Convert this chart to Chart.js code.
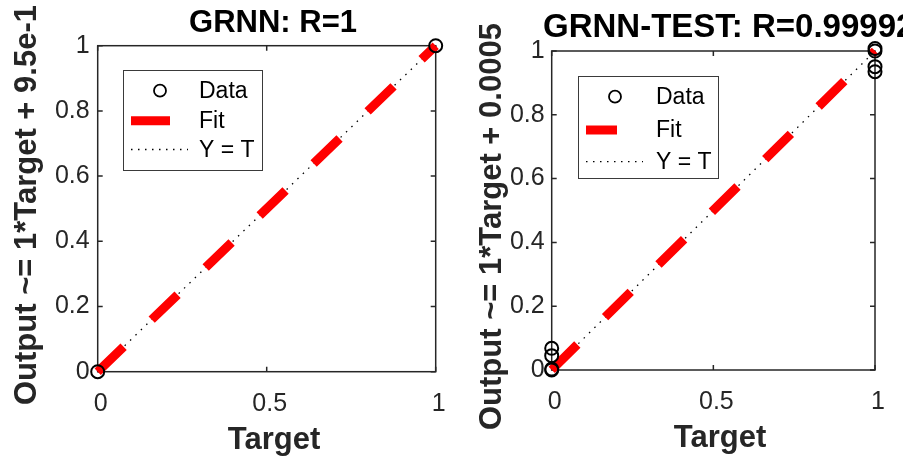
<!DOCTYPE html>
<html>
<head>
<meta charset="utf-8">
<script src="https://cdn.jsdelivr.net/npm/chart.js@4.4.1/dist/chart.umd.min.js"></script>
<style>
    html, body { margin: 0; padding: 0; background: #fff; }
    body { width: 903px; height: 457px; position: relative; overflow: hidden; }
    .panel { position: absolute; top: 0; height: 457px; }
</style>
</head>
<body>
<div class="panel" style="left:0;width:451px"><canvas id="trainChart"></canvas></div>
<div class="panel" style="left:451px;width:452px"><canvas id="testChart"></canvas></div>
<script>
// Tick labels (shared by both panels)
const xTickValues = [0, 0.5, 1];
const yTickValues = [0, 0.2, 0.4, 0.6, 0.8, 1];

// Left panel: GRNN (training)
const trainTargets = [0, 1];
const trainOutputs = [0, 1];
const trainFitX = [0, 1];
const trainFitY = [0, 1];

// Right panel: GRNN-TEST
const testTargets = [0, 0, 0, 0, 1, 1, 1, 1];
const testOutputs = [0, 0.003, 0.045, 0.068, 1, 1.008, 0.951, 0.935];
const testFitX = [0, 1];
const testFitY = [0.0005, 1.0005];

// Y = T reference line
const idealX = [0, 1];
const idealY = [0, 1];

const AXIS_COLOR = "#262626";
const FONT = "'Liberation Sans', Arial, Helvetica, sans-serif";

function toPoints(xs, ys) {
    return xs.map((x, i) => ({ x: x, y: ys[i] }));
}

// Frame with inward ticks on all four sides, MATLAB style
const framePlugin = {
    id: "frame",
    beforeDatasetsDraw(chart) {
        const { ctx, chartArea: a, scales } = chart;
        ctx.save();
        ctx.strokeStyle = AXIS_COLOR;
        ctx.lineWidth = 1.5;
        ctx.strokeRect(a.left, a.top, a.right - a.left, a.bottom - a.top);
        const tl = 5;
        ctx.beginPath();
        scales.x.ticks.forEach(t => {
            const px = scales.x.getPixelForValue(t.value);
            ctx.moveTo(px, a.bottom); ctx.lineTo(px, a.bottom - tl);
            ctx.moveTo(px, a.top); ctx.lineTo(px, a.top + tl);
        });
        scales.y.ticks.forEach(t => {
            const py = scales.y.getPixelForValue(t.value);
            ctx.moveTo(a.left, py); ctx.lineTo(a.left + tl, py);
            ctx.moveTo(a.right, py); ctx.lineTo(a.right - tl, py);
        });
        ctx.stroke();
        ctx.restore();
    }
};

// Titles, rotated y label, x label and boxed legend
const textPlugin = {
    id: "texts",
    afterDatasetsDraw(chart, args, opts) {
        const { ctx } = chart;
        ctx.save();

        // title
        ctx.fillStyle = "#000";
        ctx.font = "bold " + opts.titleSize + "px " + FONT;
        ctx.textAlign = opts.titleAlign;
        ctx.textBaseline = "alphabetic";
        ctx.fillText(opts.title, opts.titleX, opts.titleY);

        // x label
        ctx.font = "bold 31px " + FONT;
        ctx.fillStyle = AXIS_COLOR;
        ctx.textAlign = "center";
        ctx.fillText("Target", opts.xLabelX, opts.xLabelY);

        // y label
        ctx.save();
        ctx.translate(opts.yLabelX, opts.yLabelY);
        ctx.rotate(-Math.PI / 2);
        ctx.textAlign = "left";
        ctx.fillText(opts.yLabel, 0, 0);
        ctx.restore();

        // legend
        const lg = opts.legend;
        ctx.fillStyle = "#fff";
        ctx.fillRect(lg.left, lg.top, lg.width, lg.height);
        ctx.strokeStyle = "#3a3a3a";
        ctx.lineWidth = 1;
        ctx.strokeRect(lg.left + 0.5, lg.top + 0.5, lg.width, lg.height);

        ctx.font = "23px " + FONT;
        ctx.textAlign = "left";
        ctx.textBaseline = "middle";
        chart.data.datasets.forEach((ds, i) => {
            const y = lg.rows[i];
            ctx.save();
            if (ds.showLine) {
                ctx.strokeStyle = ds.borderColor;
                ctx.lineWidth = ds.borderWidth;
                ctx.setLineDash(ds.legendDash || []);
                ctx.beginPath();
                ctx.moveTo(lg.sampleLeft, y);
                ctx.lineTo(lg.sampleLeft + (ds.legendLength || lg.sampleWidth), y);
                ctx.stroke();
            } else {
                ctx.strokeStyle = ds.borderColor;
                ctx.lineWidth = 1.8;
                ctx.beginPath();
                ctx.arc(lg.markerX, y, 6, 0, Math.PI * 2);
                ctx.stroke();
            }
            ctx.restore();
            ctx.fillStyle = "#000";
            ctx.fillText(ds.label, lg.textX, y + 1);
        });
        ctx.restore();
    }
};

function makeChart(canvasId, data, layout) {
    const datasets = [
        {
            label: "Data",
            data: toPoints(data.targets, data.outputs),
            showLine: false,
            pointRadius: 6.5,
            pointBorderWidth: 2,
            pointBackgroundColor: "rgba(0,0,0,0)",
            borderColor: "#000",
            clip: false
        },
        {
            label: "Fit",
            data: toPoints(data.fitX, data.fitY),
            showLine: true,
            pointRadius: 0,
            borderColor: "#ff0000",
            borderWidth: 9,
            borderDash: [36, 39],
            borderCapStyle: "butt",
            legendLength: layout.texts.legend.fitLength,
            clip: false
        },
        {
            label: "Y = T",
            data: toPoints(idealX, idealY),
            showLine: true,
            pointRadius: 0,
            borderColor: "#000",
            borderWidth: 1.3,
            borderDash: [1.5, 6],
            legendDash: [1.5, 5.5],
            clip: false
        }
    ];

    return new Chart(document.getElementById(canvasId), {
        type: "scatter",
        data: { datasets: datasets },
        options: {
            responsive: true,
            maintainAspectRatio: false,
            devicePixelRatio: 1,
            animation: false,
            layout: { padding: layout.padding },
            plugins: {
                legend: { display: false },
                tooltip: { enabled: false },
                texts: layout.texts
            },
            scales: {
                x: {
                    type: "linear",
                    min: 0,
                    max: 1,
                    afterBuildTicks: s => { s.ticks = xTickValues.map(v => ({ value: v })); },
                    afterFit: s => {
                        s.height = layout.xAxisHeight;
                        s.paddingLeft = 0;
                        s.paddingRight = 0;
                    },
                    grid: { display: false, drawTicks: false },
                    border: { display: false },
                    ticks: {
                        color: AXIS_COLOR,
                        font: { family: FONT, size: 25 },
                        padding: 17,
                        labelOffset: 3,
                        maxRotation: 0,
                        autoSkip: false,
                        callback: v => String(v)
                    }
                },
                y: {
                    type: "linear",
                    min: 0,
                    max: 1,
                    afterBuildTicks: s => { s.ticks = yTickValues.map(v => ({ value: v })); },
                    afterFit: s => {
                        s.width = layout.yAxisWidth;
                        s.paddingTop = 0;
                        s.paddingBottom = 0;
                    },
                    grid: { display: false, drawTicks: false },
                    border: { display: false },
                    ticks: {
                        color: AXIS_COLOR,
                        font: { family: FONT, size: 25 },
                        padding: layout.yTickPadding,
                        autoSkip: false,
                        callback: v => String(v)
                    }
                }
            }
        },
        plugins: [framePlugin, textPlugin]
    });
}

makeChart("trainChart",
    { targets: trainTargets, outputs: trainOutputs, fitX: trainFitX, fitY: trainFitY },
    {
        padding: { left: 0, right: 15.3, top: 45.7, bottom: 0 },
        yAxisWidth: 97.7,
        xAxisHeight: 85.3,
        yTickPadding: 8,
        texts: {
            title: "GRNN: R=1", titleSize: 31,
            titleAlign: "center", titleX: 273, titleY: 32,
            xLabelX: 274, xLabelY: 449,
            yLabel: "Output ~= 1*Target + 9.5e-1",
            yLabelX: 36, yLabelY: 405,
            legend: {
                left: 123, top: 70, width: 139, height: 100,
                rows: [90.7, 120.7, 149.5],
                markerX: 160, sampleLeft: 131, sampleWidth: 57, fitLength: 39, textX: 199
            }
        }
    });

makeChart("testChart",
    { targets: testTargets, outputs: testOutputs, fitX: testFitX, fitY: testFitY },
    {
        padding: { left: 0, right: 28, top: 51, bottom: 0 },
        yAxisWidth: 100.7,
        xAxisHeight: 87,
        yTickPadding: 7,
        texts: {
            title: "GRNN-TEST: R=0.99992", titleSize: 33,
            titleAlign: "left", titleX: 92, titleY: 36.5,
            xLabelX: 269, xLabelY: 447,
            yLabel: "Output ~= 1*Target + 0.0005",
            yLabelX: 50, yLabelY: 430,
            legend: {
                left: 127, top: 76, width: 140, height: 102,
                rows: [96.7, 130, 161.7],
                markerX: 164, sampleLeft: 135, sampleWidth: 57, fitLength: 31, textX: 205
            }
        }
    });
</script>
</body>
</html>
